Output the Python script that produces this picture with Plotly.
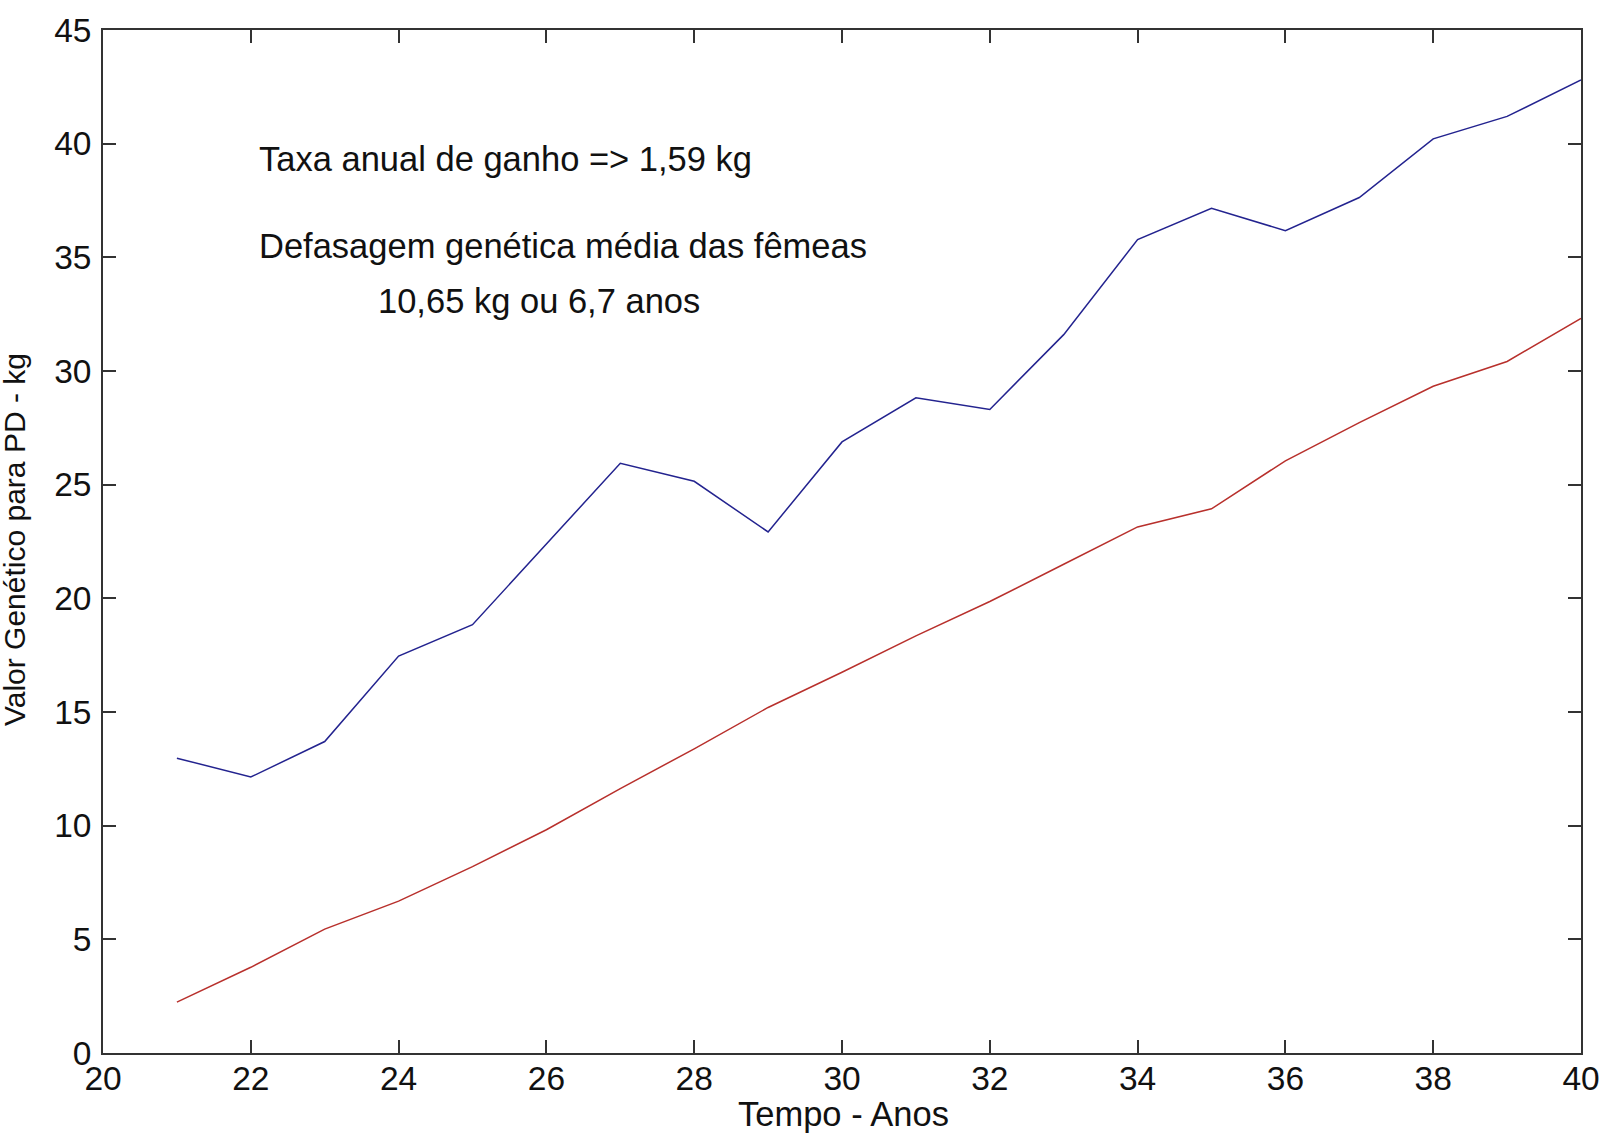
import plotly.graph_objects as go

# Genetic trend for PD (kg) over time
anos = list(range(21, 41))
valor_machos = [12.97, 12.14, 13.70, 17.46, 18.84, 22.40, 25.94, 25.15, 22.92, 26.88,
                28.82, 28.31, 31.60, 35.78, 37.16, 36.17, 37.63, 40.21, 41.20, 42.80]
valor_femeas = [2.24, 3.77, 5.45, 6.68, 8.20, 9.82, 11.63, 13.38, 15.20, 16.75,
                18.35, 19.86, 21.50, 23.14, 23.94, 26.05, 27.73, 29.33, 30.42, 32.31]

x_ticks = list(range(20, 41, 2))
y_ticks = list(range(0, 46, 5))

FONT = "Liberation Sans, Arial, sans-serif"
FS_TICK = 33.5
FS_TEXT = 34.5
FS_YLAB = 30

fig = go.Figure()
fig.add_trace(go.Scatter(x=anos, y=valor_machos, mode="lines",
                         line=dict(color="#23238f", width=1.5), showlegend=False))
fig.add_trace(go.Scatter(x=anos, y=valor_femeas, mode="lines",
                         line=dict(color="#b8302c", width=1.5), showlegend=False))

axis_common = dict(
    showgrid=False, zeroline=False, showline=True, linecolor="#333333", linewidth=1.6,
    mirror="ticks", ticks="inside", ticklen=13, tickwidth=1.6, tickcolor="#333333",
    tickfont=dict(family=FONT, size=FS_TICK, color="#111111"),
)

fig.update_xaxes(range=[20, 40], tickvals=x_ticks, ticktext=[str(v) for v in x_ticks],
                 ticklabelstandoff=-5, **axis_common)
fig.update_yaxes(range=[0, 45], tickvals=y_ticks, ticktext=[str(v) for v in y_ticks],
                 ticklabelstandoff=3, **axis_common)

notes = [
    ("Taxa anual de ganho => 1,59 kg", 258, 153),
    ("Defasagem genética média das fêmeas", 258, 240),
    ("10,65 kg ou 6,7 anos", 378, 296),
]
L, R, T, B = 103, 1590, 23, 1053
W, H = R - L, B - T
for text, px, py in notes:
    fig.add_annotation(text=text, xref="paper", yref="paper",
                       x=(px - L) / W, y=(B - py) / H, xanchor="left", yanchor="middle",
                       showarrow=False, font=dict(family=FONT, size=FS_TEXT, color="#111111"))

fig.add_annotation(text="Tempo - Anos", xref="paper", yref="paper",
                   x=(848 - L) / W, y=(B - 1114) / H, xanchor="center", yanchor="middle",
                   showarrow=False, font=dict(family=FONT, size=FS_TEXT, color="#111111"))
fig.add_annotation(text="Valor Genético para PD - kg", xref="paper", yref="paper",
                   x=(14 - L) / W, y=(B - 536) / H, xanchor="center", yanchor="middle",
                   textangle=-90, showarrow=False,
                   font=dict(family=FONT, size=FS_YLAB, color="#111111"))

fig.update_layout(
    width=1612, height=1134,
    margin=dict(l=L, r=1612 - R, t=T, b=1134 - B),
    paper_bgcolor="white", plot_bgcolor="white",
)

fig.write_html("out.html")
